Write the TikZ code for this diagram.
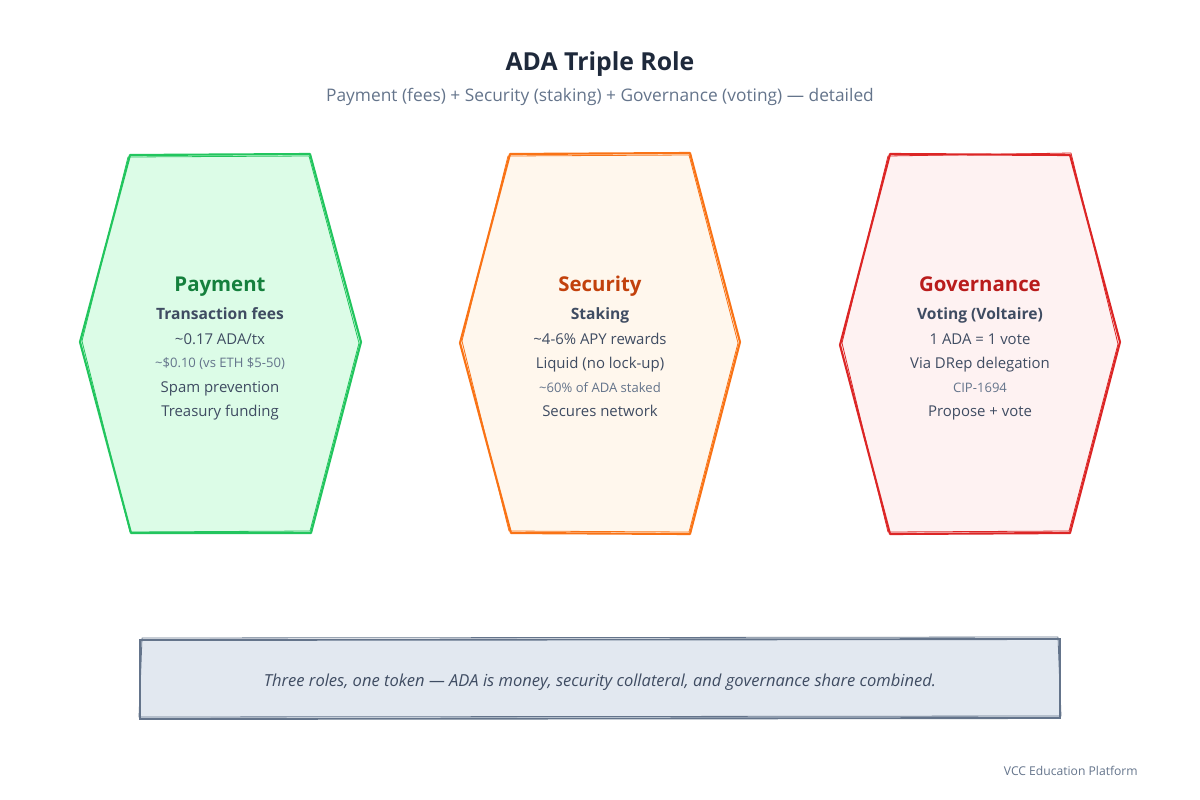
\documentclass[tikz,border=0pt]{standalone}
\usepackage{fontspec}
\setmainfont{Open Sans}
\usetikzlibrary{positioning}

\definecolor{inktitle}{HTML}{1E293B}
\definecolor{inkdark}{HTML}{3F4C62}
\definecolor{inkgray}{HTML}{64748B}
\definecolor{payline}{HTML}{22C55E}
\definecolor{payfill}{HTML}{DCFCE7}
\definecolor{payhead}{HTML}{15803D}
\definecolor{secline}{HTML}{F97316}
\definecolor{secfill}{HTML}{FFF7ED}
\definecolor{sechead}{HTML}{C2410C}
\definecolor{govline}{HTML}{DC2626}
\definecolor{govfill}{HTML}{FEF2F2}
\definecolor{govhead}{HTML}{B91C1C}
\definecolor{notefill}{HTML}{E2E8F0}
\definecolor{noteline}{HTML}{64748B}

\newcommand{\tld}{{\char"7E}}

\begin{document}
\begin{tikzpicture}[x=0.75pt, y=-0.75pt,
  %% -- shape styles (1 unit = 1 px, y grows downwards) --
  hexbox/.style={line width=1.6pt, line join=round},
  sketch/.style={line width=0.6pt, line join=round},
  notebox/.style={draw=noteline, fill=notefill, line width=1.4pt},
  %% -- text styles --
  title/.style={anchor=base, font=\fontsize{18.6}{22}\selectfont\bfseries, text=inktitle},
  subtitle/.style={anchor=base, font=\fontsize{13}{16}\selectfont, text=inkgray},
  head/.style={anchor=base, font=\fontsize{15.3}{18}\selectfont\bfseries},
  subhead/.style={anchor=base, font=\fontsize{11.7}{14}\selectfont\bfseries, text=inkdark},
  detail/.style={anchor=base, font=\fontsize{11.2}{13}\selectfont, text=inkdark},
  faint/.style={anchor=base, font=\fontsize{9.8}{12}\selectfont, text=inkgray},
  footer/.style={anchor=base east, inner sep=0pt, font=\fontsize{9.1}{11}\selectfont, text=inkgray}
]
\useasboundingbox (0,0) rectangle (1200,800);

%% -- Title --
\node[title]    (ttl) at (600,70)  {ADA Triple Role};
\node[subtitle] (sub) at (600,101) {Payment (fees) + Security (staking) + Governance (voting) — detailed};

%% -- Hexagons (x centres 220 / 600 / 980) --
\draw[hexbox, draw=payline, fill=payfill]
  (130,155) -- (310,154) -- (361,342) -- (311,533) -- (131,533) -- (80,342) -- cycle;
\draw[sketch, draw=payline]
  (128,157) -- (309,156) -- (359,343) -- (310,531) -- (130,532) -- (82,341) -- cycle;
\draw[hexbox, draw=secline, fill=secfill]
  (510,154) -- (690,153) -- (740,342) -- (690,534) -- (511,533) -- (460,343) -- cycle;
\draw[sketch, draw=secline]
  (508,156) -- (689,155) -- (738,343) -- (689,532) -- (509,531) -- (462,341) -- cycle;
\draw[hexbox, draw=govline, fill=govfill]
  (890,154) -- (1070,155) -- (1120,342) -- (1070,533) -- (890,534) -- (840,345) -- cycle;
\draw[sketch, draw=govline]
  (888,156) -- (1071,153) -- (1118,344) -- (1069,531) -- (888,532) -- (842,343) -- cycle;

%% -- Payment --
\node[head, text=payhead] (pay)  at (220,291) {Payment};
\node[subhead]            (pay0) at (220,319) {Transaction fees};
\node[detail]             (pay1) at (220,344) {\tld0.17 ADA/tx};
\node[faint]              (pay2) at (220,367) {\tld\$0.10 (vs ETH \$5-50)};
\node[detail]             (pay3) at (220,392) {Spam prevention};
\node[detail]             (pay4) at (220,416) {Treasury funding};

%% -- Security --
\node[head, text=sechead] (sec)  at (600,291) {Security};
\node[subhead]            (sec0) at (600,319) {Staking};
\node[detail]             (sec1) at (600,344) {\tld4-6\% APY rewards};
\node[detail]             (sec2) at (600,368) {Liquid (no lock-up)};
\node[faint]              (sec3) at (600,392) {\tld60\% of ADA staked};
\node[detail]             (sec4) at (600,416) {Secures network};

%% -- Governance --
\node[head, text=govhead] (gov)  at (980,291) {Governance};
\node[subhead]            (gov0) at (980,319) {Voting (Voltaire)};
\node[detail]             (gov1) at (980,344) {1 ADA = 1 vote};
\node[detail]             (gov2) at (980,368) {Via DRep delegation};
\node[faint]              (gov3) at (980,392) {CIP-1694};
\node[detail]             (gov4) at (980,416) {Propose + vote};

%% -- Bottom note --
\draw[notebox] (140,640) -- (1060,639) -- (1060,718) -- (140,719) -- cycle;
\draw[sketch, draw=noteline] (142,638) -- (1058,637) -- (1061,716) -- (139,717) -- cycle;
\node[detail, font=\fontsize{12.4}{15}\selectfont\itshape] (msg) at (600,686)
  {Three roles, one token — ADA is money, security collateral, and governance share combined.};

\node[footer] (brand) at (1138,775) {VCC Education Platform};

\end{tikzpicture}
\end{document}
